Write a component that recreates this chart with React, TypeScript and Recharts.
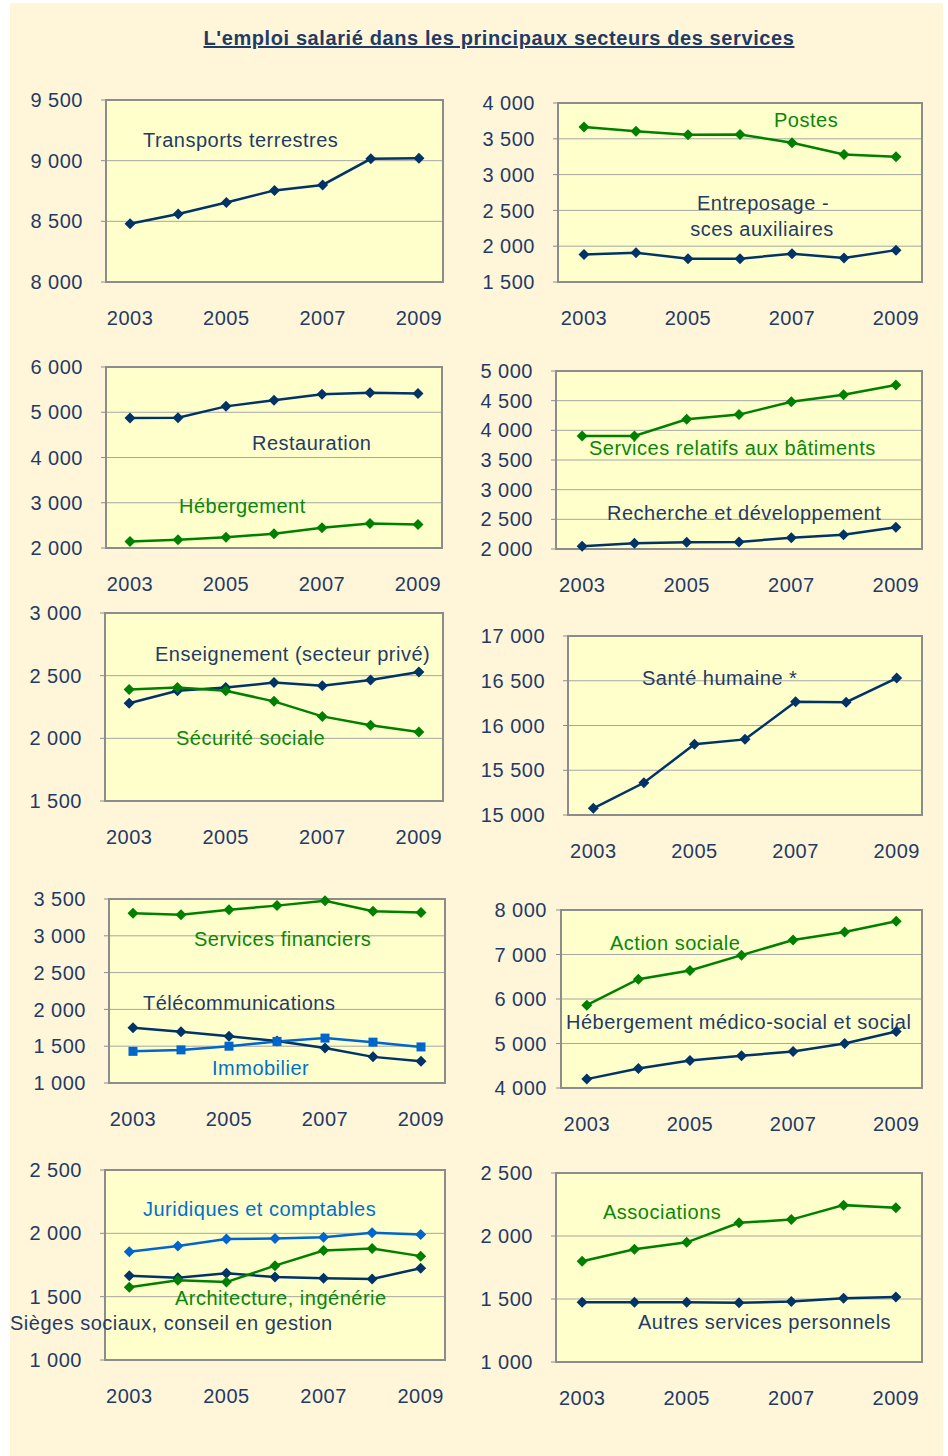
import { LineChart, Line, XAxis, YAxis, CartesianGrid, ReferenceArea } from 'recharts';

// années et graduations
const YEARS = [2003, 2004, 2005, 2006, 2007, 2008, 2009];
const YEAR_LABELS = [2003, 2005, 2007, 2009];
const BOUNDS = [...YEARS.map((y) => y - 0.5), YEARS[YEARS.length - 1] + 0.5];

// effectifs salariés (milliers)
const transportsTerrestres = [8480, 8560, 8655, 8755, 8800, 9015, 9020];
const postes = [3665, 3605, 3555, 3560, 3445, 3280, 3250];
const entreposage = [1885, 1910, 1825, 1825, 1895, 1835, 1945];
const restauration = [4875, 4880, 5130, 5265, 5400, 5430, 5415];
const hebergement = [2145, 2185, 2235, 2315, 2445, 2540, 2520];
const servicesBatiments = [3905, 3905, 4185, 4265, 4480, 4600, 4765];
const recherche = [2045, 2095, 2115, 2120, 2190, 2240, 2365];
const enseignement = [2280, 2380, 2405, 2445, 2420, 2465, 2530];
const securiteSociale = [2390, 2405, 2380, 2295, 2175, 2105, 2050];
const santeHumaine = [15075, 15360, 15790, 15845, 16265, 16260, 16530];
const servicesFinanciers = [3305, 3285, 3355, 3410, 3475, 3335, 3315];
const telecom = [1750, 1695, 1635, 1570, 1475, 1355, 1295];
const immobilier = [1430, 1450, 1500, 1565, 1610, 1555, 1490];
const actionSociale = [5860, 6445, 6640, 6985, 7325, 7505, 7745];
const hebergementMedicoSocial = [4200, 4440, 4620, 4725, 4820, 5000, 5270];
const juridiques = [1855, 1900, 1955, 1960, 1970, 2005, 1990];
const architecture = [1575, 1630, 1615, 1745, 1865, 1880, 1820];
const sieges = [1665, 1650, 1685, 1655, 1645, 1640, 1725];
const associations = [1800, 1895, 1950, 2105, 2130, 2245, 2225];
const autresServices = [1475, 1475, 1475, 1470, 1480, 1505, 1515];

const TICKS_TRANSPORTS = [8000, 8500, 9000, 9500];
const TICKS_POSTES = [1500, 2000, 2500, 3000, 3500, 4000];
const TICKS_RESTAURATION = [2000, 3000, 4000, 5000, 6000];
const TICKS_BATIMENTS = [2000, 2500, 3000, 3500, 4000, 4500, 5000];
const TICKS_ENSEIGNEMENT = [1500, 2000, 2500, 3000];
const TICKS_SANTE = [15000, 15500, 16000, 16500, 17000];
const TICKS_FINANCE = [1000, 1500, 2000, 2500, 3000, 3500];
const TICKS_SOCIAL = [4000, 5000, 6000, 7000, 8000];
const TICKS_CONSEIL = [1000, 1500, 2000, 2500];
const TICKS_ASSOC = [1000, 1500, 2000, 2500];

const NAVY = '#003366';
const GREEN = '#008000';
const BLUE = '#0066CC';
const TEXT_NAVY = '#1F3B66';
const TEXT_GREEN = '#0A870A';
const TEXT_BLUE = '#0070C8';
const PLOT_BG = '#FFFFCC';
const PAGE_BG = '#FFF6DA';
const GRID = '#A6A6A6';
const BORDER = '#8C8C8C';

type Serie = { values: number[]; color: string; square?: boolean };
type Note = { text: string; x: number; y: number; color: string; center?: boolean };
type Panel = { x: number; y: number; w: number; h: number; ticks: number[]; gap?: number; series: Serie[]; notes: Note[] };

const PANELS: Panel[] = [
  {
    x: 106, y: 100, w: 337, h: 182, ticks: TICKS_TRANSPORTS,
    series: [{ values: transportsTerrestres, color: NAVY }],
    notes: [{ text: 'Transports terrestres', x: 143, y: 140, color: TEXT_NAVY }],
  },
  {
    x: 558, y: 103, w: 364, h: 179, ticks: TICKS_POSTES,
    series: [{ values: entreposage, color: NAVY }, { values: postes, color: GREEN }],
    notes: [
      { text: 'Postes', x: 774, y: 120, color: TEXT_GREEN },
      { text: 'Entreposage -', x: 763, y: 203, color: TEXT_NAVY, center: true },
      { text: 'sces auxiliaires', x: 762, y: 229, color: TEXT_NAVY, center: true },
    ],
  },
  {
    x: 106, y: 367, w: 336, h: 181, ticks: TICKS_RESTAURATION,
    series: [{ values: restauration, color: NAVY }, { values: hebergement, color: GREEN }],
    notes: [
      { text: 'Restauration', x: 252, y: 443, color: TEXT_NAVY },
      { text: 'Hébergement', x: 179, y: 506, color: TEXT_GREEN },
    ],
  },
  {
    x: 556, y: 371, w: 366, h: 178, ticks: TICKS_BATIMENTS,
    series: [{ values: recherche, color: NAVY }, { values: servicesBatiments, color: GREEN }],
    notes: [
      { text: 'Services relatifs aux bâtiments', x: 589, y: 448, color: TEXT_GREEN },
      { text: 'Recherche et développement', x: 607, y: 513, color: TEXT_NAVY },
    ],
  },
  {
    x: 105, y: 613, w: 338, h: 188, ticks: TICKS_ENSEIGNEMENT,
    series: [{ values: enseignement, color: NAVY }, { values: securiteSociale, color: GREEN }],
    notes: [
      { text: 'Enseignement (secteur privé)', x: 155, y: 654, color: TEXT_NAVY },
      { text: 'Sécurité sociale', x: 176, y: 738, color: TEXT_GREEN },
    ],
  },
  {
    x: 568, y: 636, w: 354, h: 179, ticks: TICKS_SANTE,
    series: [{ values: santeHumaine, color: NAVY }],
    notes: [{ text: 'Santé humaine *', x: 642, y: 678, color: TEXT_NAVY }],
  },
  {
    x: 109, y: 899, w: 336, h: 184, ticks: TICKS_FINANCE,
    series: [
      { values: servicesFinanciers, color: GREEN },
      { values: telecom, color: NAVY },
      { values: immobilier, color: BLUE, square: true },
    ],
    notes: [
      { text: 'Services financiers', x: 194, y: 939, color: TEXT_GREEN },
      { text: 'Télécommunications', x: 143, y: 1003, color: TEXT_NAVY },
      { text: 'Immobilier', x: 212, y: 1068, color: TEXT_BLUE },
    ],
  },
  {
    x: 561, y: 910, w: 361, h: 178, ticks: TICKS_SOCIAL, gap: 14,
    series: [{ values: hebergementMedicoSocial, color: NAVY }, { values: actionSociale, color: GREEN }],
    notes: [
      { text: 'Action sociale', x: 610, y: 943, color: TEXT_GREEN },
      { text: 'Hébergement médico-social et social', x: 566, y: 1022, color: TEXT_NAVY },
    ],
  },
  {
    x: 105, y: 1170, w: 340, h: 190, ticks: TICKS_CONSEIL,
    series: [
      { values: sieges, color: NAVY },
      { values: architecture, color: GREEN },
      { values: juridiques, color: BLUE },
    ],
    notes: [
      { text: 'Juridiques et comptables', x: 143, y: 1209, color: TEXT_BLUE },
      { text: 'Architecture, ingénérie', x: 175, y: 1298, color: TEXT_GREEN },
      { text: 'Sièges sociaux, conseil en gestion', x: 10, y: 1323, color: TEXT_NAVY },
    ],
  },
  {
    x: 556, y: 1173, w: 366, h: 189, ticks: TICKS_ASSOC,
    series: [{ values: autresServices, color: NAVY }, { values: associations, color: GREEN }],
    notes: [
      { text: 'Associations', x: 603, y: 1212, color: TEXT_GREEN },
      { text: 'Autres services personnels', x: 638, y: 1322, color: TEXT_NAVY },
    ],
  },
];

const fmt = (n: number) => String(n).replace(/\B(?=(\d{3})+(?!\d))/g, ' ');

const marker = (color: string, square?: boolean) => (props: any) => {
  const { cx, cy, index } = props;
  if (cx == null || cy == null) return <g key={`m-${index}`} />;
  if (square) {
    return <rect key={`m-${index}`} x={cx - 4.5} y={cy - 4.5} width={9} height={9} fill={color} />;
  }
  const r = 5.5;
  return <path key={`m-${index}`} d={`M${cx},${cy - r}L${cx + r},${cy}L${cx},${cy + r}L${cx - r},${cy}Z`} fill={color} />;
};

function SmallChart({ p }: { p: Panel }) {
  const data = YEARS.map((year, i) => {
    const row: Record<string, number> = { year };
    p.series.forEach((s, k) => {
      row['s' + k] = s.values[i];
    });
    return row;
  });
  const lo = p.ticks[0];
  const hi = p.ticks[p.ticks.length - 1];
  const xDomain = [BOUNDS[0], BOUNDS[BOUNDS.length - 1]];
  const tickStyle = { fill: TEXT_NAVY, fontSize: 20 };

  return (
    <div style={{ position: 'absolute', left: p.x - 110, top: p.y - 10 }}>
      <LineChart width={p.w + 120} height={p.h + 70} data={data} margin={{ top: 10, right: 10, bottom: 0, left: 0 }}>
        <XAxis
          xAxisId="b" dataKey="year" type="number" domain={xDomain} ticks={BOUNDS} interval={0}
          tick={false} tickSize={5} tickLine={{ stroke: BORDER }} axisLine={false} height={10}
        />
        <XAxis
          xAxisId="l" dataKey="year" type="number" domain={xDomain} ticks={YEAR_LABELS} interval={0}
          tickLine={false} tickSize={0} tickMargin={19} axisLine={false} height={50} tick={tickStyle}
        />
        <YAxis
          type="number" domain={[lo, hi]} ticks={p.ticks} interval={0} width={110}
          tickSize={5} tickMargin={(p.gap ?? 23) - 5} tickLine={{ stroke: BORDER }} axisLine={false}
          tickFormatter={fmt} tick={tickStyle}
        />
        <CartesianGrid xAxisId="b" stroke={GRID} fill={PLOT_BG} fillOpacity={1} />
        <ReferenceArea
          xAxisId="b" x1={xDomain[0]} x2={xDomain[1]} y1={lo} y2={hi}
          fill="none" stroke={BORDER} strokeWidth={2} ifOverflow="visible"
        />
        {p.series.map((s, k) => (
          <Line
            key={k} xAxisId="l" dataKey={'s' + k} type="linear" stroke={s.color} strokeWidth={2.5}
            dot={marker(s.color, s.square)} activeDot={false} isAnimationActive={false}
          />
        ))}
      </LineChart>
    </div>
  );
}

export default function App() {
  return (
    <div
      style={{
        position: 'absolute', left: 0, top: 0, width: 948, height: 1456,
        fontFamily: '"Liberation Sans", Arial, sans-serif', letterSpacing: '0.5px',
      }}
    >
      <div style={{ position: 'absolute', left: 10, top: 3, width: 933, height: 1453, background: PAGE_BG }} />
      <div
        style={{
          position: 'absolute', left: 0, width: 998, top: 28, textAlign: 'center',
          fontSize: 20, lineHeight: '20px', fontWeight: 'bold', color: TEXT_NAVY,
          textDecoration: 'underline', textDecorationThickness: '2px', letterSpacing: '0.6px',
        }}
      >
        L'emploi salarié dans les principaux secteurs des services
      </div>
      {PANELS.map((p, i) => (
        <SmallChart key={i} p={p} />
      ))}
      {PANELS.flatMap((p, i) =>
        p.notes.map((n, j) => (
          <div
            key={`${i}-${j}`}
            style={{
              position: 'absolute', top: n.y - 10, left: n.center ? n.x - 200 : n.x,
              width: n.center ? 400 : undefined, textAlign: n.center ? 'center' : 'left',
              whiteSpace: 'nowrap', fontSize: 20, lineHeight: '20px', color: n.color, pointerEvents: 'none',
            }}
          >
            {n.text}
          </div>
        ))
      )}
    </div>
  );
}
